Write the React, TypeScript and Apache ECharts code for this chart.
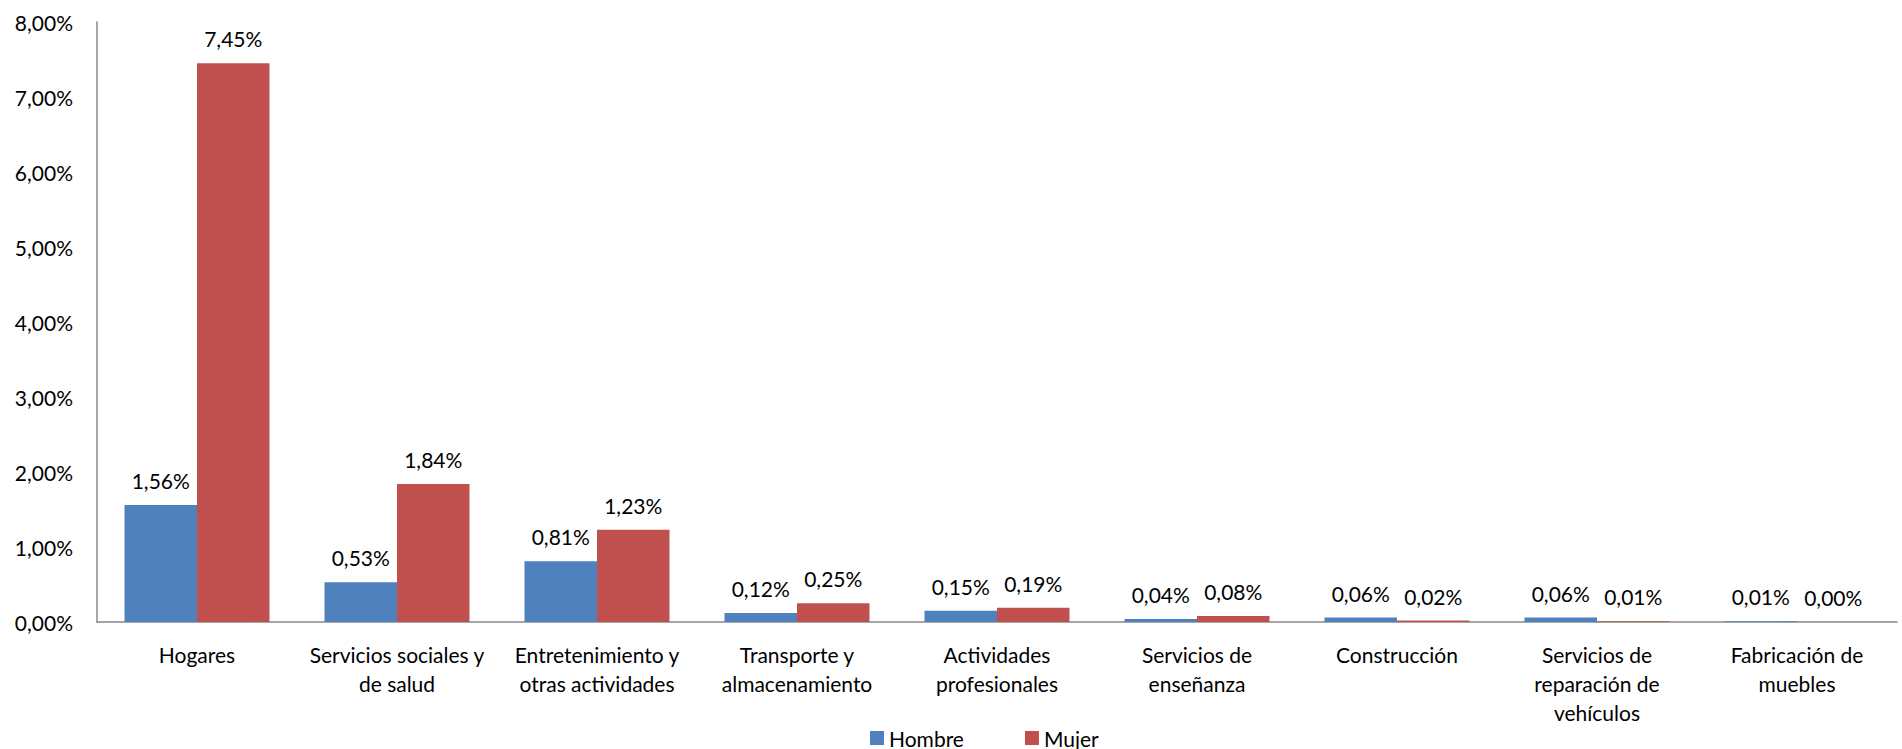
import React, { useEffect, useRef } from "react";
import * as echarts from "echarts";

const categories = [
  "Hogares",
  "Servicios sociales y\nde salud",
  "Entretenimiento y\notras actividades",
  "Transporte y\nalmacenamiento",
  "Actividades\nprofesionales",
  "Servicios de\nenseñanza",
  "Construcción",
  "Servicios de\nreparación de\nvehículos",
  "Fabricación de\nmuebles",
];
const hombre = [1.56, 0.53, 0.81, 0.12, 0.15, 0.04, 0.06, 0.06, 0.01];
const mujer = [7.45, 1.84, 1.23, 0.25, 0.19, 0.08, 0.02, 0.01, 0.0];
const seriesNames = ["Hombre", "Mujer"];

const fmt = (v: number) => v.toFixed(2).replace(".", ",") + "%";

export default function App() {
  const ref = useRef<HTMLDivElement>(null);
  useEffect(() => {
    if (!ref.current) return;
    const chart = echarts.init(ref.current, undefined, { renderer: "svg" });
    const labelCfg = {
      show: true,
      position: "top" as const,
      distance: 14,
      color: "#000",
      fontSize: 21,
      fontFamily: "Lato",
      formatter: (p: any) => fmt(p.value),
    };
    chart.setOption({
      animation: false,
      backgroundColor: "#fff",
      textStyle: { fontFamily: "Lato", color: "#000" },
      grid: { left: 97, top: 22, width: 1800, height: 600, containLabel: false },
      legend: {
        data: seriesNames,
        left: 870,
        top: 727,
        padding: 0,
        itemWidth: 14,
        itemHeight: 14,
        itemGap: 61,
        icon: "rect",
        textStyle: { fontSize: 21, lineHeight: 22, color: "#000", fontFamily: "Lato" },
      },
      xAxis: {
        type: "category",
        data: categories,
        axisLine: { lineStyle: { color: "#888", width: 1.5 } },
        axisTick: { show: false },
        axisLabel: {
          interval: 0,
          color: "#000",
          fontSize: 21,
          lineHeight: 29,
          margin: 18,
          fontFamily: "Lato",
        },
      },
      yAxis: {
        type: "value",
        min: 0,
        max: 8,
        interval: 1,
        splitLine: { show: false },
        axisLine: { show: true, lineStyle: { color: "#888", width: 1.5 } },
        axisTick: { show: false },
        axisLabel: {
          color: "#000",
          fontSize: 21,
          margin: 24,
          fontFamily: "Lato",
          formatter: (v: number) => fmt(v),
        },
      },
      series: [
        {
          name: seriesNames[0],
          type: "bar",
          data: hombre,
          itemStyle: { color: "#4F81BD" },
          barGap: "0%",
          barCategoryGap: "27.5%",
          label: labelCfg,
        },
        {
          name: seriesNames[1],
          type: "bar",
          data: mujer,
          itemStyle: { color: "#C0504D" },
          barGap: "0%",
          barCategoryGap: "27.5%",
          label: labelCfg,
        },
      ],
    });
    return () => chart.dispose();
  }, []);
  return (
    <div
      ref={ref}
      style={{ position: "fixed", left: 0, top: 0, width: 1902, height: 749, background: "#fff" }}
    />
  );
}
